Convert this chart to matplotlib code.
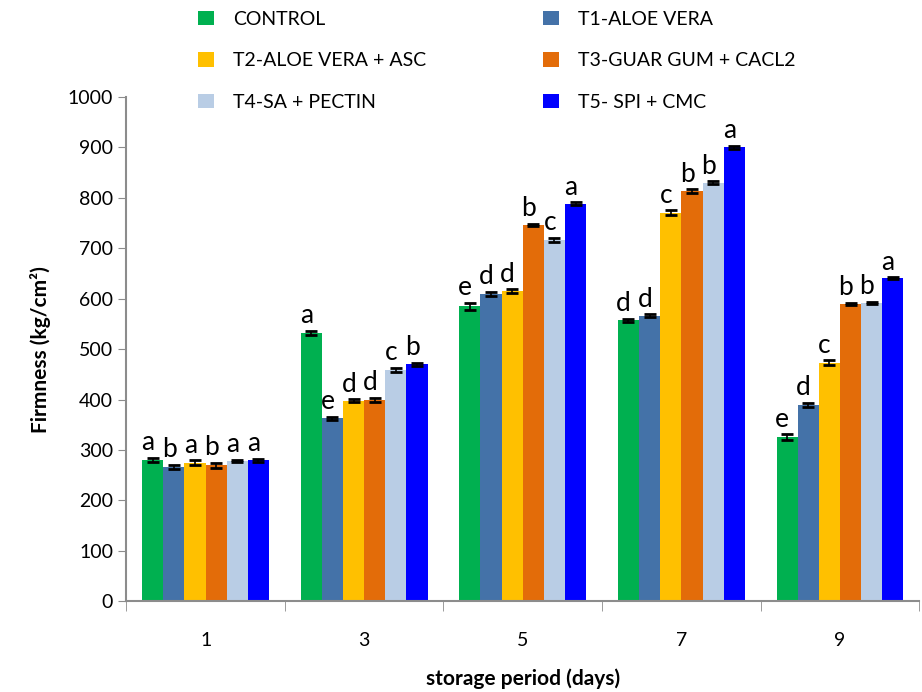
import numpy as np
import matplotlib.pyplot as plt

plt.rcParams['font.family'] = ['Lato', 'DejaVu Sans']

days = ['1', '3', '5', '7', '9']
treatments = ['CONTROL', 'T1-ALOE VERA', 'T2-ALOE VERA + ASC',
              'T3-GUAR GUM + CACL2', 'T4-SA + PECTIN', 'T5- SPI + CMC']
colors = ['#00B050', '#4472A8', '#FFC000', '#E36C09', '#B9CDE5', '#0000FF']

# firmness per treatment, one value per storage day
control = [281, 532, 585, 557, 325]
t1 = [267, 363, 610, 566, 390]
t2 = [275, 398, 615, 770, 473]
t3 = [270, 400, 747, 813, 590]
t4 = [279, 459, 717, 830, 592]
t5 = [280, 470, 788, 900, 640]
values = [control, t1, t2, t3, t4, t5]

errors = [[4, 4, 7, 3, 6],
          [4, 3, 4, 3, 4],
          [5, 3, 4, 5, 5],
          [5, 4, 2, 4, 2],
          [2, 4, 4, 3, 2],
          [3, 3, 3, 3, 2]]

letters = [['a', 'a', 'e', 'd', 'e'],
           ['b', 'e', 'd', 'd', 'd'],
           ['a', 'd', 'd', 'c', 'c'],
           ['b', 'd', 'b', 'b', 'b'],
           ['a', 'c', 'c', 'b', 'b'],
           ['a', 'b', 'a', 'a', 'a']]

fig = plt.figure(figsize=(9.22, 6.92), dpi=100)
ax = fig.add_axes([0.137, 0.131, 0.860, 0.729])

x = np.arange(len(days))
w = 0.8 / len(treatments)
for i, (name, vals) in enumerate(zip(treatments, values)):
    pos = x - 0.4 + w * (i + 0.5)
    ax.bar(pos, vals, w, color=colors[i], label=name, linewidth=0)
    ax.errorbar(pos, vals, yerr=errors[i], fmt='none', ecolor='black',
                elinewidth=1.2, capsize=4, capthick=2)
    for p, v, e, l in zip(pos, vals, errors[i], letters[i]):
        ax.text(p - 0.03, v + e + 5, l, ha='center', va='bottom', fontsize=19)

ax.set_xlim(-0.5, len(days) - 0.5)
ax.set_ylim(0, 1000)
ax.set_yticks(range(0, 1001, 100))
ax.set_xticks(x)
ax.set_xticklabels(days)
ax.set_xticks(np.arange(-0.5, len(days), 1), minor=True)
ax.tick_params(axis='x', which='major', length=0, pad=22, labelsize=14)
ax.tick_params(axis='x', which='minor', length=7, color='#8c8c8c')
ax.tick_params(axis='y', length=6, color='#8c8c8c', labelsize=14)

for s in ['top', 'right']:
    ax.spines[s].set_visible(False)
for s in ['left', 'bottom']:
    ax.spines[s].set_color('#8c8c8c')
    ax.spines[s].set_linewidth(1.5)

ax.set_ylabel('Firmness (kg/cm²)', fontsize=15, fontweight='bold', labelpad=12)
ax.set_xlabel('storage period (days)', fontsize=15, fontweight='bold', labelpad=14)

handles, labels = ax.get_legend_handles_labels()
order = [0, 2, 4, 1, 3, 5]
fig.legend([handles[k] for k in order], [labels[k] for k in order],
           ncol=2, loc='upper left', bbox_to_anchor=(0.196, 1.01),
           frameon=False, fontsize=14, handlelength=0.8, handleheight=0.8,
           columnspacing=6.0, labelspacing=1.25, handletextpad=1.0)

fig.savefig('out.png', dpi=100)
